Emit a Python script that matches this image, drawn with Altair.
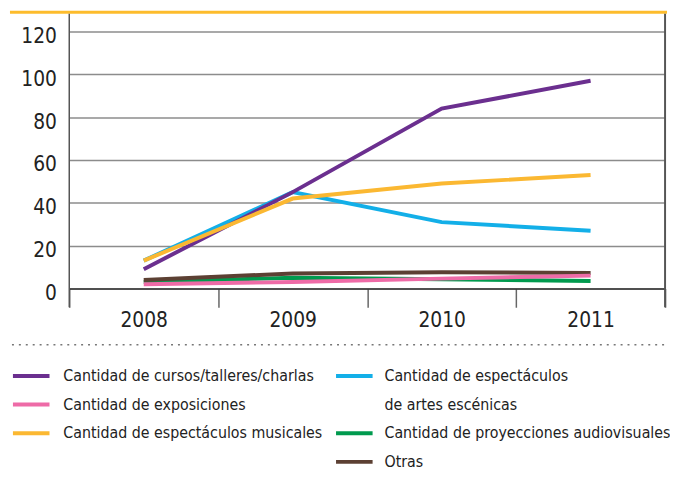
import altair as alt
import pandas as pd

years = ["2008", "2009", "2010", "2011"]

names_a = [
    "Cantidad de cursos/talleres/charlas",
    "Cantidad de exposiciones",
    "Cantidad de espectáculos musicales",
]
names_b = [
    "Cantidad de espectáculos de artes escénicas",
    "Cantidad de proyecciones audiovisuales",
    "Otras",
]
# second line of the wrapped legend label (legend-only entry, no line)
label_cont = "de artes escénicas"

cursos = [9, 45, 84, 97]
exposiciones = [2, 3, 4.6, 6]
musicales = [13, 42, 49, 53]
escenicas = [13, 45, 31, 27]
audiovisuales = [3, 5, 4.3, 3.5]
otras = [4, 7, 7.6, 7.2]

colors_a = ["#6b2f8f", "#ee6ba7", "#fbb832"]
colors_b = ["#13afe8", "rgba(0,0,0,0)", "#009a4e", "#5c4033"]

FONT = "DejaVu Sans Condensed, Liberation Sans Narrow, sans-serif"


def long(names, series):
    rows = []
    for n, s in zip(names, series):
        for y, v in zip(years, s):
            rows.append({"year": y, "value": v, "serie": n})
    return pd.DataFrame(rows)


df_a = long(names_a, [cursos, exposiciones, musicales])
df_b = long(names_b, [escenicas, audiovisuales, otras])

xenc = alt.X(
    "year:N",
    scale=alt.Scale(domain=years, paddingInner=0, paddingOuter=0),
    axis=alt.Axis(
        title=None, labelAngle=0, tickBand="extent", tickSize=19,
        tickColor="#666666", tickWidth=1.5, domainColor="#333333",
        domainWidth=1.5, labelFontSize=21, labelColor="#222222",
        labelPadding=2, labelFont=FONT, grid=False,
    ),
)
yenc = alt.Y(
    "value:Q",
    scale=alt.Scale(domain=[0, 120], nice=False),
    axis=alt.Axis(
        title=None, values=[0, 20, 40, 60, 80, 100, 120], grid=True,
        gridColor="#8c8c8c", gridWidth=1.5, domain=False, ticks=False,
        labelPadding=13, labelOffset=5, labelFontSize=21,
        labelColor="#222222", labelFont=FONT,
    ),
)

legend_common = dict(
    orient="none", title=None, direction="vertical", symbolType="stroke",
    symbolSize=1369, symbolStrokeWidth=4, labelFont=FONT, labelFontSize=16,
    labelColor="#222222", labelLimit=0, rowPadding=-3, padding=0,
    labelBaseline="middle",
)

domain_b = [names_b[0], label_cont, names_b[1], names_b[2]]

line_b = alt.Chart(df_b).mark_line(strokeWidth=4).encode(
    x=xenc, y=yenc,
    color=alt.Color(
        "serie:N",
        scale=alt.Scale(domain=domain_b, range=colors_b),
        sort=domain_b,
        legend=alt.Legend(
            legendX=268, legendY=328, labelOffset=10,
            labelExpr="datum.label == 'Cantidad de espectáculos de artes escénicas' ? 'Cantidad de espectáculos' : datum.label",
            **legend_common,
        ),
    ),
)
line_a = alt.Chart(df_a).mark_line(strokeWidth=4).encode(
    x=xenc, y=yenc,
    color=alt.Color(
        "serie:N",
        scale=alt.Scale(domain=names_a, range=colors_a),
        sort=names_a,
        legend=alt.Legend(legendX=-59, legendY=328, labelOffset=12, **legend_common),
    ),
)

one = pd.DataFrame({"k": [0]})
top_bar = alt.Chart(one).mark_rect(color="#fdbc2c").encode(
    x=alt.value(-60), x2=alt.value(605), y=alt.value(-21), y2=alt.value(-18)
)
left_rule = alt.Chart(one).mark_rule(color="#555555", strokeWidth=1.5).encode(
    x=alt.value(0), y=alt.value(-18), y2=alt.value(279)
)
right_rule = alt.Chart(one).mark_rule(color="#555555", strokeWidth=2).encode(
    x=alt.value(603), y=alt.value(-18), y2=alt.value(279)
)
dotted = alt.Chart(one).mark_rule(
    color="#777777", strokeWidth=1.5, strokeDash=[2, 5]
).encode(x=alt.value(-58), x2=alt.value(605), y=alt.value(317))

chart = (
    alt.layer(top_bar, line_b, line_a, left_rule, right_rule, dotted)
    .resolve_scale(color="independent")
    .properties(
        width=603, height=260,
        autosize=alt.AutoSizeParams(type="none"),
        padding={"left": 62, "top": 21, "right": 5, "bottom": 192},
    )
    .configure_view(stroke=None)
)

chart.save("out.html", embed_options={"renderer": "svg", "actions": False})
